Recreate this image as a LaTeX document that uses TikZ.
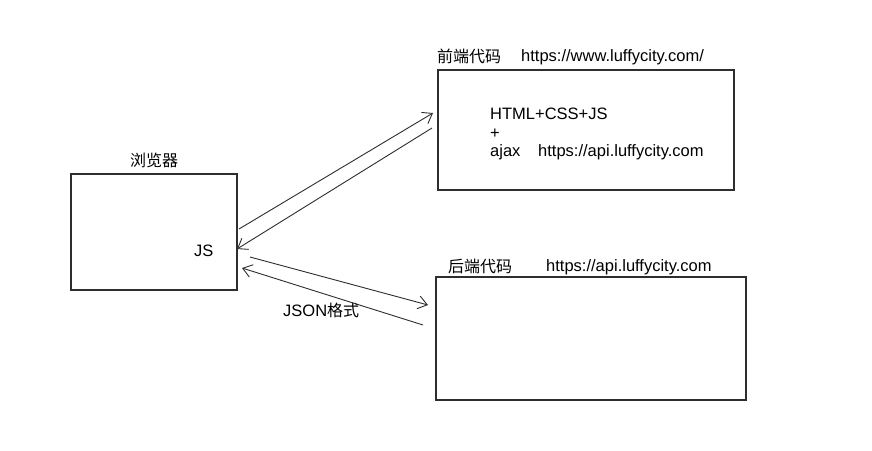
\documentclass[tikz,border=0pt]{standalone}
\usepackage{fontspec}
\setmainfont{Liberation Sans}
\newfontfamily\cjk{Noto Sans CJK SC}
\usetikzlibrary{arrows.meta}
\definecolor{ink}{HTML}{2E2E2E}
\tikzset{
  box/.style={draw=ink, line width=1.1pt, inner sep=0pt},
  lbl/.style={inner sep=0pt, text=black, font=\fontsize{16.5}{19}\selectfont},
  conn/.style={draw=ink, line width=0.9pt, -{Straight Barb[length=9pt,width=13pt,line width=0.9pt]}},
}
\begin{document}
\begin{tikzpicture}[x=1pt,y=-1pt]
\useasboundingbox[fill=white] (0,0) rectangle (872,450);
% boxes
\node[box, minimum width=166pt, minimum height=116pt] (browser) at (154,232) {};
\node[box, minimum width=296pt, minimum height=120pt] (front) at (586,130) {};
\node[box, minimum width=310pt, minimum height=123pt] (back) at (591,338.5) {};
% labels
\node[lbl, anchor=base west] (tbrowser) at (130,166) {\cjk\fontsize{16}{19}\selectfont 浏览器};
\node[lbl, anchor=base west] (js) at (194,256) {JS};
\node[lbl, anchor=base west] (tfront) at (437,62) {\cjk\fontsize{16}{19}\selectfont 前端代码};
\node[lbl, anchor=base west] (ufront) at (521,61) {https://www.luffycity.com/};
\node[lbl, anchor=base west] (l1) at (490,119.5) {HTML+CSS+JS};
\node[lbl, anchor=base west] (l2) at (490,138) {+};
\node[lbl, anchor=base west] (l3) at (490,156) {ajax};
\node[lbl, anchor=base west] (l4) at (538,156) {https://api.luffycity.com};
\node[lbl, anchor=base west] (tback) at (448,272) {\cjk\fontsize{16}{19}\selectfont 后端代码};
\node[lbl, anchor=base west] (uback) at (546,271) {https://api.luffycity.com};
\node[lbl, anchor=base west] (json) at (283,316) {JSON{\cjk\fontsize{16}{19}\selectfont 格式}};
% connector end points
\coordinate (b1) at (239,229);
\coordinate (f1) at (433,113);
\coordinate (f2) at (432,128);
\coordinate (b2) at (237,249);
\coordinate (b3) at (250,257);
\coordinate (k3) at (428,305);
\coordinate (k4) at (423,325);
\coordinate (b4) at (242,268);
% connectors
\draw[conn] (b1) -- (f1);
\draw[conn] (f2) -- (b2);
\draw[conn] (b3) -- (k3);
\draw[conn] (k4) -- (b4);
\end{tikzpicture}
\end{document}
